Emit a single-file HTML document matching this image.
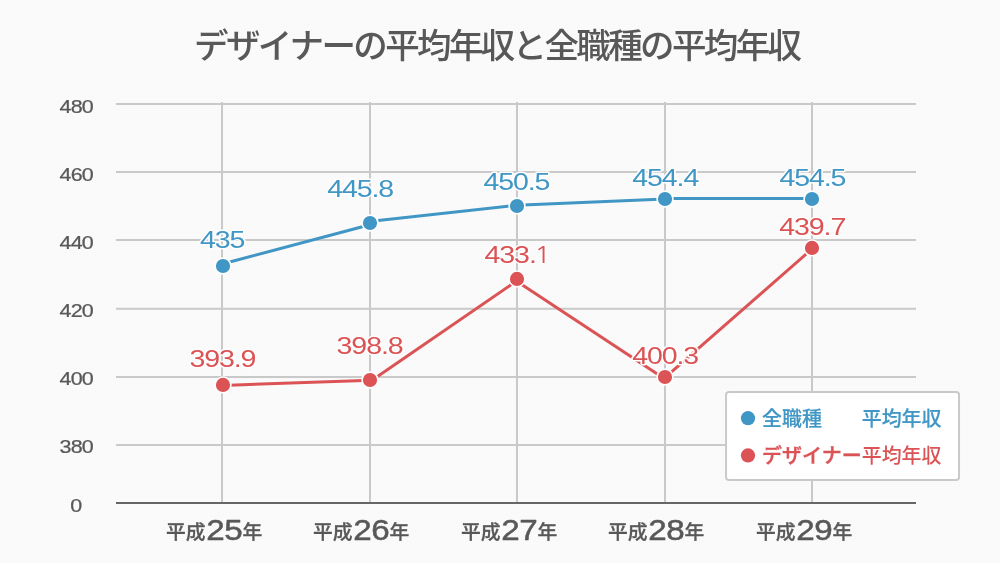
<!DOCTYPE html>
<html lang="ja"><head><meta charset="utf-8"><title>デザイナーの平均年収と全職種の平均年収</title>
<style>html,body{margin:0;padding:0;background:#f9f9f9;overflow:hidden}svg{display:block}text{font-kerning:none}</style>
</head><body>
<svg width="1000" height="563" viewBox="0 0 1000 563">
<defs><pattern id="dots" width="2" height="2" patternUnits="userSpaceOnUse"><rect width="2" height="2" fill="#f9f9f9"/><rect x="0" y="1" width="1" height="1" fill="#fcfcfc"/></pattern></defs>
<rect width="1000" height="563" fill="url(#dots)"/>
<text x="496.7" y="57.8" text-anchor="middle" font-family='"Liberation Sans", "Noto Sans CJK JP", sans-serif' font-size="34.5" font-weight="500" letter-spacing="-2.64" fill="#585858">デザイナーの平均年収と全職種の平均年収</text>
<g stroke="#c9c9c9" stroke-width="2" fill="none">
<line x1="116" y1="104" x2="916" y2="104"/>
<line x1="116" y1="172" x2="916" y2="172"/>
<line x1="116" y1="240" x2="916" y2="240"/>
<line x1="116" y1="308.7" x2="916" y2="308.7"/>
<line x1="116" y1="377" x2="916" y2="377"/>
<line x1="116" y1="445" x2="916" y2="445"/>
<line x1="222" y1="102" x2="222" y2="503"/>
<line x1="370" y1="102" x2="370" y2="503"/>
<line x1="517" y1="102" x2="517" y2="503"/>
<line x1="665" y1="102" x2="665" y2="503"/>
<line x1="812" y1="102" x2="812" y2="503"/>
</g>
<line x1="116" y1="503" x2="916" y2="503" stroke="#666666" stroke-width="2"/>
<text transform="translate(76.18 112.77) scale(1.2 1)" text-anchor="middle" font-family='"Liberation Sans", "Noto Sans CJK JP", sans-serif' font-size="17.9" font-weight="normal" fill="#585858" stroke="#585858" stroke-width="0.25" stroke-linejoin="round" letter-spacing="-0.7">480</text>
<text transform="translate(76.18 180.76) scale(1.2 1)" text-anchor="middle" font-family='"Liberation Sans", "Noto Sans CJK JP", sans-serif' font-size="17.9" font-weight="normal" fill="#585858" stroke="#585858" stroke-width="0.25" stroke-linejoin="round" letter-spacing="-0.7">460</text>
<text transform="translate(76.18 248.76) scale(1.2 1)" text-anchor="middle" font-family='"Liberation Sans", "Noto Sans CJK JP", sans-serif' font-size="17.9" font-weight="normal" fill="#585858" stroke="#585858" stroke-width="0.25" stroke-linejoin="round" letter-spacing="-0.7">440</text>
<text transform="translate(76.18 316.76) scale(1.2 1)" text-anchor="middle" font-family='"Liberation Sans", "Noto Sans CJK JP", sans-serif' font-size="17.9" font-weight="normal" fill="#585858" stroke="#585858" stroke-width="0.25" stroke-linejoin="round" letter-spacing="-0.7">420</text>
<text transform="translate(76.18 384.76) scale(1.2 1)" text-anchor="middle" font-family='"Liberation Sans", "Noto Sans CJK JP", sans-serif' font-size="17.9" font-weight="normal" fill="#585858" stroke="#585858" stroke-width="0.25" stroke-linejoin="round" letter-spacing="-0.7">400</text>
<text transform="translate(76.18 452.76) scale(1.2 1)" text-anchor="middle" font-family='"Liberation Sans", "Noto Sans CJK JP", sans-serif' font-size="17.9" font-weight="normal" fill="#585858" stroke="#585858" stroke-width="0.25" stroke-linejoin="round" letter-spacing="-0.7">380</text>
<text transform="translate(76.30 511.96) scale(1.2 1)" text-anchor="middle" font-family='"Liberation Sans", "Noto Sans CJK JP", sans-serif' font-size="17.9" font-weight="normal" fill="#585858" stroke="#585858" stroke-width="0.25" stroke-linejoin="round">0</text>
<g><text x="166.0" y="539.2" font-family='"Liberation Sans", "Noto Sans CJK JP", sans-serif' font-size="19.8" font-weight="500" stroke="#585858" stroke-width="0.3" fill="#585858">平成</text><text transform="translate(224.16 540.34) scale(1.13 1)" text-anchor="middle" font-family='"Liberation Sans", "Noto Sans CJK JP", sans-serif' font-size="29.4" font-weight="normal" fill="#585858" stroke="#585858" stroke-width="0.5" stroke-linejoin="round" letter-spacing="-0.6">25</text><text x="242.5" y="539.2" font-family='"Liberation Sans", "Noto Sans CJK JP", sans-serif' font-size="19.8" font-weight="500" stroke="#585858" stroke-width="0.3" fill="#585858">年</text></g>
<g><text x="313.0" y="539.2" font-family='"Liberation Sans", "Noto Sans CJK JP", sans-serif' font-size="19.8" font-weight="500" stroke="#585858" stroke-width="0.3" fill="#585858">平成</text><text transform="translate(371.16 540.34) scale(1.13 1)" text-anchor="middle" font-family='"Liberation Sans", "Noto Sans CJK JP", sans-serif' font-size="29.4" font-weight="normal" fill="#585858" stroke="#585858" stroke-width="0.5" stroke-linejoin="round" letter-spacing="-0.6">26</text><text x="389.5" y="539.2" font-family='"Liberation Sans", "Noto Sans CJK JP", sans-serif' font-size="19.8" font-weight="500" stroke="#585858" stroke-width="0.3" fill="#585858">年</text></g>
<g><text x="461.0" y="539.2" font-family='"Liberation Sans", "Noto Sans CJK JP", sans-serif' font-size="19.8" font-weight="500" stroke="#585858" stroke-width="0.3" fill="#585858">平成</text><text transform="translate(519.16 540.34) scale(1.13 1)" text-anchor="middle" font-family='"Liberation Sans", "Noto Sans CJK JP", sans-serif' font-size="29.4" font-weight="normal" fill="#585858" stroke="#585858" stroke-width="0.5" stroke-linejoin="round" letter-spacing="-0.6">27</text><text x="537.5" y="539.2" font-family='"Liberation Sans", "Noto Sans CJK JP", sans-serif' font-size="19.8" font-weight="500" stroke="#585858" stroke-width="0.3" fill="#585858">年</text></g>
<g><text x="608.0" y="539.2" font-family='"Liberation Sans", "Noto Sans CJK JP", sans-serif' font-size="19.8" font-weight="500" stroke="#585858" stroke-width="0.3" fill="#585858">平成</text><text transform="translate(666.16 540.34) scale(1.13 1)" text-anchor="middle" font-family='"Liberation Sans", "Noto Sans CJK JP", sans-serif' font-size="29.4" font-weight="normal" fill="#585858" stroke="#585858" stroke-width="0.5" stroke-linejoin="round" letter-spacing="-0.6">28</text><text x="684.5" y="539.2" font-family='"Liberation Sans", "Noto Sans CJK JP", sans-serif' font-size="19.8" font-weight="500" stroke="#585858" stroke-width="0.3" fill="#585858">年</text></g>
<g><text x="756.0" y="539.2" font-family='"Liberation Sans", "Noto Sans CJK JP", sans-serif' font-size="19.8" font-weight="500" stroke="#585858" stroke-width="0.3" fill="#585858">平成</text><text transform="translate(814.16 540.34) scale(1.13 1)" text-anchor="middle" font-family='"Liberation Sans", "Noto Sans CJK JP", sans-serif' font-size="29.4" font-weight="normal" fill="#585858" stroke="#585858" stroke-width="0.5" stroke-linejoin="round" letter-spacing="-0.6">29</text><text x="832.5" y="539.2" font-family='"Liberation Sans", "Noto Sans CJK JP", sans-serif' font-size="19.8" font-weight="500" stroke="#585858" stroke-width="0.3" fill="#585858">年</text></g>
<g stroke="#4096c4" stroke-width="3" fill="none">
<line x1="228.80" y1="262.26" x2="364.20" y2="226.24"/>
<line x1="375.96" y1="220.79" x2="511.04" y2="205.86"/>
<line x1="522.99" y1="205.05" x2="659.01" y2="199.35"/>
<line x1="671.00" y1="198.50" x2="806.00" y2="198.50"/>
</g>
<g stroke="#db5355" stroke-width="3" fill="none">
<line x1="229.00" y1="385.20" x2="364.00" y2="380.60"/>
<line x1="374.95" y1="378.20" x2="512.05" y2="284.05"/>
<line x1="522.01" y1="284.71" x2="659.99" y2="375.79"/>
<line x1="669.52" y1="373.55" x2="807.48" y2="252.95"/>
</g>
<circle cx="223" cy="266" r="7.9" fill="#4096c4" stroke="#fefefe" stroke-width="1.6"/>
<circle cx="370" cy="223" r="7.9" fill="#4096c4" stroke="#fefefe" stroke-width="1.6"/>
<circle cx="517" cy="206" r="7.9" fill="#4096c4" stroke="#fefefe" stroke-width="1.6"/>
<circle cx="665" cy="199" r="7.9" fill="#4096c4" stroke="#fefefe" stroke-width="1.6"/>
<circle cx="812" cy="199" r="7.9" fill="#4096c4" stroke="#fefefe" stroke-width="1.6"/>
<circle cx="223" cy="384.9" r="7.9" fill="#db5355" stroke="#fefefe" stroke-width="1.6"/>
<circle cx="370" cy="380" r="7.9" fill="#db5355" stroke="#fefefe" stroke-width="1.6"/>
<circle cx="517" cy="278.9" r="7.9" fill="#db5355" stroke="#fefefe" stroke-width="1.6"/>
<circle cx="665" cy="377" r="7.9" fill="#db5355" stroke="#fefefe" stroke-width="1.6"/>
<circle cx="812" cy="247.9" r="7.9" fill="#db5355" stroke="#fefefe" stroke-width="1.6"/>
<rect x="726.05" y="392" width="233" height="88" rx="3" ry="3" fill="#ffffff" stroke="#c9c9c9" stroke-width="2"/>
<circle cx="748" cy="418.2" r="7.1" fill="#4096c4"/>
<circle cx="748" cy="455.4" r="7.1" fill="#db5355"/>
<text x="762" y="426" font-family='"Liberation Sans", "Noto Sans CJK JP", sans-serif' font-size="19.95" font-weight="500" stroke="#4096c4" stroke-width="0.2" fill="#4096c4" xml:space="preserve">全職種　　平均年収</text>
<text x="762" y="463.2" font-family='"Liberation Sans", "Noto Sans CJK JP", sans-serif' font-size="19.95" font-weight="500" fill="#db5355"><tspan stroke="#db5355" stroke-width="0.4">デザイナー</tspan>平均年収</text>
<text transform="translate(222.20 247.59) scale(1.22 1)" text-anchor="middle" font-family='"Liberation Sans", "Noto Sans CJK JP", sans-serif' font-size="23.4" font-weight="normal" fill="#4096c4" stroke="#fefefe" stroke-width="2.8" stroke-linejoin="round" paint-order="stroke" letter-spacing="-0.9">435</text>
<text transform="translate(360.15 196.69) scale(1.22 1)" text-anchor="middle" font-family='"Liberation Sans", "Noto Sans CJK JP", sans-serif' font-size="23.4" font-weight="normal" fill="#4096c4" stroke="#fefefe" stroke-width="2.8" stroke-linejoin="round" paint-order="stroke" letter-spacing="-0.9">445.8</text>
<text transform="translate(516.35 189.59) scale(1.22 1)" text-anchor="middle" font-family='"Liberation Sans", "Noto Sans CJK JP", sans-serif' font-size="23.4" font-weight="normal" fill="#4096c4" stroke="#fefefe" stroke-width="2.8" stroke-linejoin="round" paint-order="stroke" letter-spacing="-0.9">450.5</text>
<text transform="translate(665.25 185.79) scale(1.22 1)" text-anchor="middle" font-family='"Liberation Sans", "Noto Sans CJK JP", sans-serif' font-size="23.4" font-weight="normal" fill="#4096c4" stroke="#fefefe" stroke-width="2.8" stroke-linejoin="round" paint-order="stroke" letter-spacing="-0.9">454.4</text>
<text transform="translate(812.35 185.79) scale(1.22 1)" text-anchor="middle" font-family='"Liberation Sans", "Noto Sans CJK JP", sans-serif' font-size="23.4" font-weight="normal" fill="#4096c4" stroke="#fefefe" stroke-width="2.8" stroke-linejoin="round" paint-order="stroke" letter-spacing="-0.9">454.5</text>
<text transform="translate(222.35 366.79) scale(1.22 1)" text-anchor="middle" font-family='"Liberation Sans", "Noto Sans CJK JP", sans-serif' font-size="23.4" font-weight="normal" fill="#db5355" stroke="#fefefe" stroke-width="2.8" stroke-linejoin="round" paint-order="stroke" letter-spacing="-0.9">393.9</text>
<text transform="translate(369.55 353.59) scale(1.22 1)" text-anchor="middle" font-family='"Liberation Sans", "Noto Sans CJK JP", sans-serif' font-size="23.4" font-weight="normal" fill="#db5355" stroke="#fefefe" stroke-width="2.8" stroke-linejoin="round" paint-order="stroke" letter-spacing="-0.9">398.8</text>
<text transform="translate(517.35 262.69) scale(1.22 1)" text-anchor="middle" font-family='"Liberation Sans", "Noto Sans CJK JP", sans-serif' font-size="23.4" font-weight="normal" fill="#db5355" stroke="#fefefe" stroke-width="2.8" stroke-linejoin="round" paint-order="stroke" letter-spacing="-0.9">433.<tspan font-family="NanumGothic, sans-serif" font-size="22.8" dx="-1.1">1</tspan></text>
<text transform="translate(665.15 364.39) scale(1.22 1)" text-anchor="middle" font-family='"Liberation Sans", "Noto Sans CJK JP", sans-serif' font-size="23.4" font-weight="normal" fill="#db5355" stroke="#fefefe" stroke-width="2.8" stroke-linejoin="round" paint-order="stroke" letter-spacing="-0.9">400.3</text>
<text transform="translate(812.25 234.79) scale(1.22 1)" text-anchor="middle" font-family='"Liberation Sans", "Noto Sans CJK JP", sans-serif' font-size="23.4" font-weight="normal" fill="#db5355" stroke="#fefefe" stroke-width="2.8" stroke-linejoin="round" paint-order="stroke" letter-spacing="-0.9">439.7</text>
</svg>
</body></html>
